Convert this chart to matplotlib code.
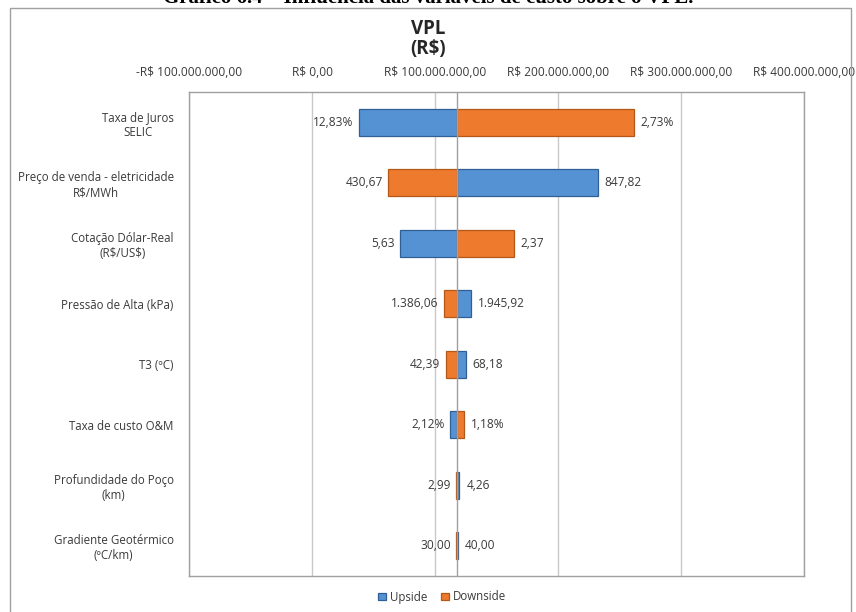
import matplotlib
matplotlib.use("Agg")
import matplotlib.pyplot as plt
from matplotlib.patches import Rectangle
import numpy as np

# --- data (VPL in millions of R$) -------------------------------------------
categories = [
    "Taxa de Juros\nSELIC",
    "Preço de venda - eletricidade\nR$/MWh",
    "Cotação Dólar-Real\n(R$/US$)",
    "Pressão de Alta (kPa)",
    "T3 (ºC)",
    "Taxa de custo O&M",
    "Profundidade do Poço\n(km)",
    "Gradiente Geotérmico\n(ºC/km)",
]
base_vpl = 118.2
upside_vpl = [38.4, 232.2, 71.6, 129.5, 124.9, 112.2, 119.8, 118.7]
downside_vpl = [261.4, 61.9, 164.1, 107.3, 108.9, 123.8, 117.0, 117.2]
upside_labels = ["12,83%", "847,82", "5,63", "1.945,92", "68,18", "2,12%", "4,26", "40,00"]
downside_labels = ["2,73%", "430,67", "2,37", "1.386,06", "42,39", "1,18%", "2,99", "30,00"]
tick_values = [-100, 0, 100, 200, 300, 400]
tick_labels = ["-R$ 100.000.000,00", "R$ 0,00", "R$ 100.000.000,00",
               "R$ 200.000.000,00", "R$ 300.000.000,00", "R$ 400.000.000,00"]

plt.rcParams["font.family"] = ["Open Sans", "DejaVu Sans"]
plt.rcParams["text.parse_math"] = False

TXT = "#3a3a3a"
FS_TICK = 8.6
FS_CAT = 8.3
FS_VAL = 8.6

W, H = 856, 612
fig = plt.figure(figsize=(W / 100, H / 100), dpi=100)

# outer chart frame
fig.patches.append(Rectangle((10 / W, -0.02), 841 / W, 1.02 - 8 / H,
                             transform=fig.transFigure, fill=False,
                             edgecolor="#a0a0a0", linewidth=1.0))

# caption line above the chart
fig.text(428 / W, 1 - 3 / H, "Gráfico 6.4 – Influência das variáveis de custo sobre o VPL.",
         ha="center", va="baseline", fontsize=15, fontweight="bold",
         family=["Liberation Serif", "DejaVu Serif"], color="black")

# chart title
fig.text(428 / W, 1 - 39 / H, "VPL\n(R$)", ha="center", va="center",
         fontsize=13.5, fontweight="bold", linespacing=1.05, color="#262626")

ax = fig.add_axes([189 / W, 1 - 576 / H, (804 - 189) / W, (576 - 92) / H])

n = len(categories)
y = np.arange(n)
bar_h = 0.44

blue_face, blue_edge = "#5592d4", "#2f5f94"
orange_face, orange_edge = "#ee7a2e", "#b45818"

ax.barh(y, np.array(upside_vpl) - base_vpl, left=base_vpl, height=bar_h,
        color=blue_face, edgecolor=blue_edge, linewidth=0.9, label="Upside", zorder=3)
ax.barh(y, np.array(downside_vpl) - base_vpl, left=base_vpl, height=bar_h,
        color=orange_face, edgecolor=orange_edge, linewidth=0.9, label="Downside", zorder=3)

# value labels on the outer end of each bar
for i in range(n):
    for val, lab in ((upside_vpl[i], upside_labels[i]), (downside_vpl[i], downside_labels[i])):
        if val < base_vpl:
            ax.annotate(lab, (val, y[i]), xytext=(-4, 0), textcoords="offset points",
                        ha="right", va="center", fontsize=FS_VAL, color=TXT)
        else:
            ax.annotate(lab, (val, y[i]), xytext=(5, 0), textcoords="offset points",
                        ha="left", va="center", fontsize=FS_VAL, color=TXT)

# vertical axis through the base value
ax.axvline(base_vpl, color="#a0a0a0", linewidth=1.0, zorder=4)

ax.set_xlim(-100, 400)
ax.set_ylim(n - 0.5, -0.5)
ax.xaxis.tick_top()
ax.set_xticks(tick_values)
ax.set_xticklabels(tick_labels, fontsize=FS_TICK, color=TXT)
ax.tick_params(axis="x", length=0, pad=9)
ax.grid(axis="x", color="#c8c8c8", linewidth=1.0, zorder=0)
ax.set_axisbelow(True)

ax.set_yticks(y)
ax.set_yticklabels(categories, fontsize=FS_CAT, color=TXT, multialignment="center",
                   linespacing=1.2)
ax.tick_params(axis="y", length=0, pad=11)

for s in ax.spines.values():
    s.set_color("#a0a0a0")
    s.set_linewidth(1.0)

fig.legend(loc="center", bbox_to_anchor=(442 / W, 1 - 597 / H), ncol=2, frameon=False,
           fontsize=FS_CAT, handlelength=0.7, handleheight=0.6, handletextpad=0.3,
           columnspacing=1.2, labelcolor=TXT)

fig.savefig("out.png", dpi=100)
